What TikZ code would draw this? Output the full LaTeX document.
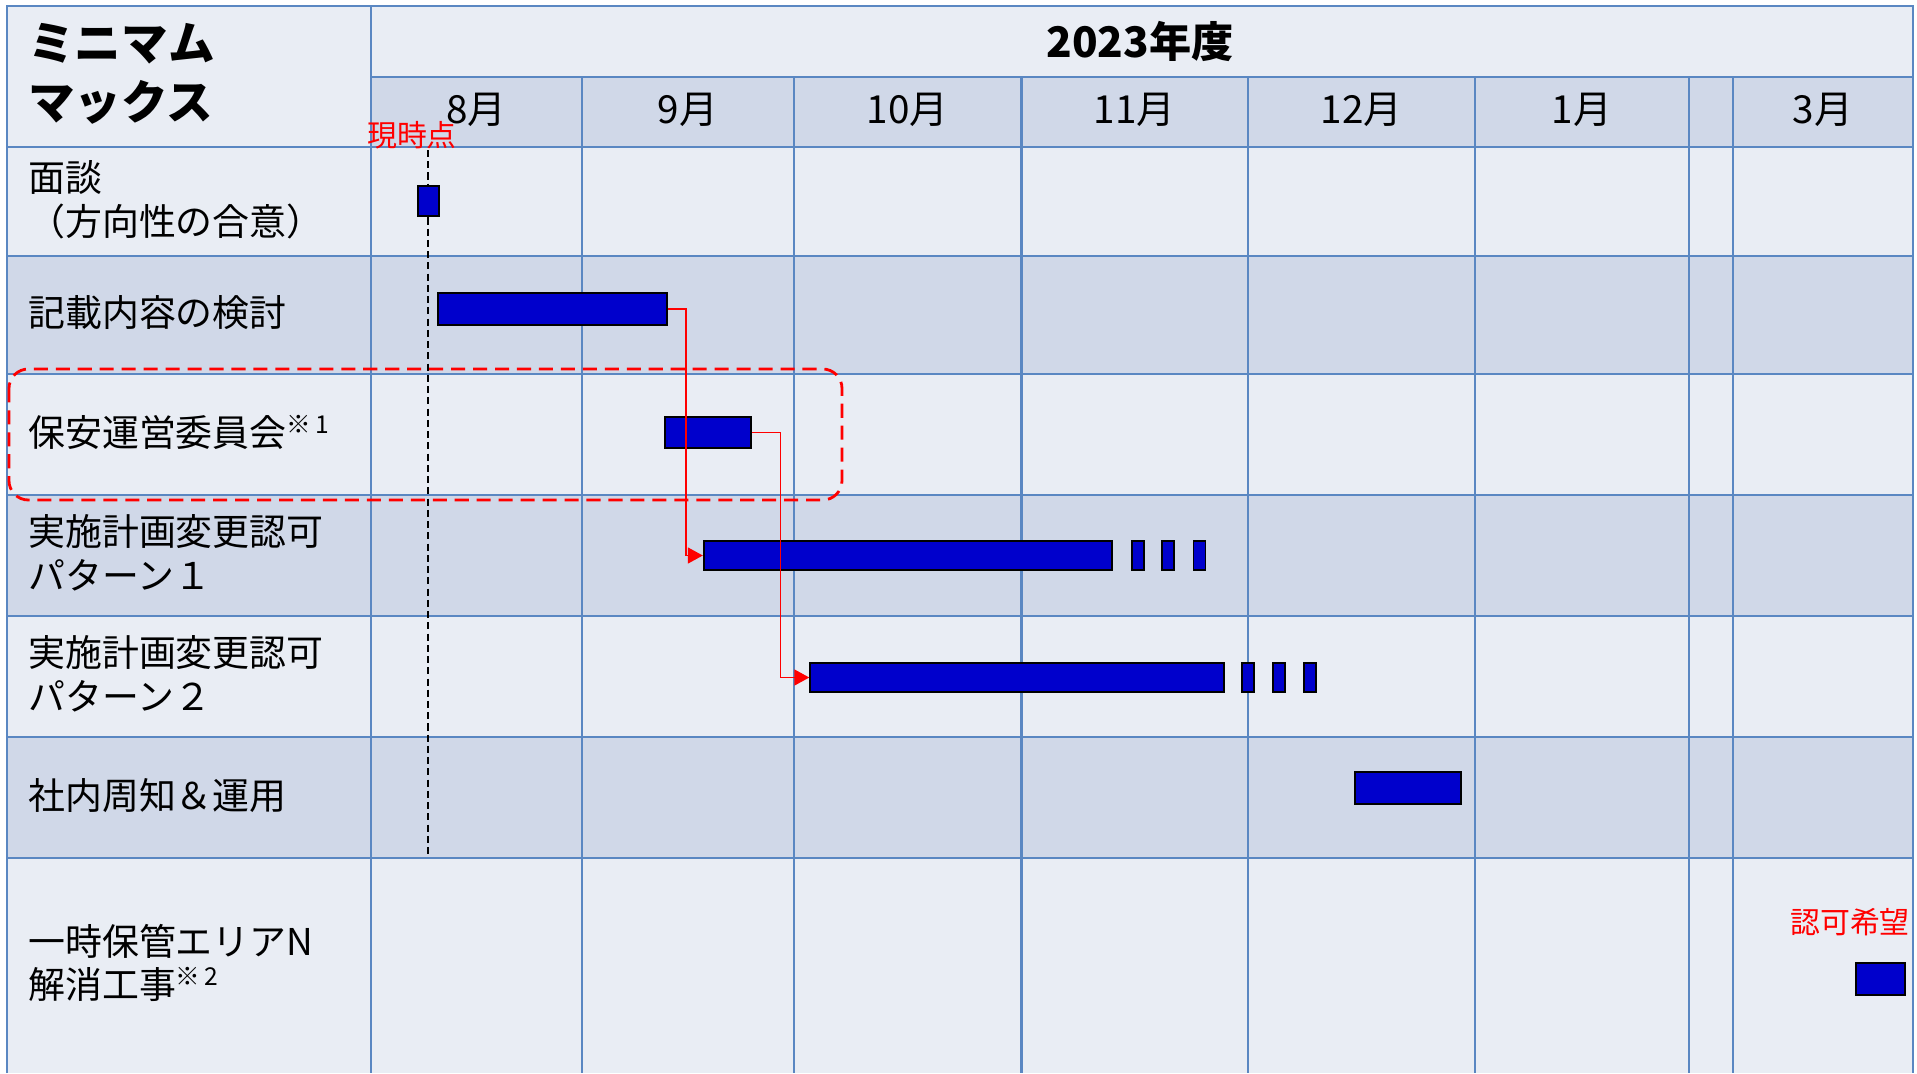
\documentclass[tikz,border=0pt]{standalone}
\usepackage{fontspec}
\setmainfont{Noto Sans CJK JP}
\usetikzlibrary{arrows.meta}
\definecolor{lightc}{HTML}{E9EDF4}
\definecolor{darkc}{HTML}{D0D8E8}
\definecolor{gridc}{HTML}{5A87C2}
\definecolor{barblue}{HTML}{0000CC}
\definecolor{redc}{HTML}{FF0000}
\newcommand{\komeji}[1]{\raisebox{7pt}{\fontsize{14}{14}\selectfont ※\,#1}}
\tikzset{
  gridline/.style={draw=gridc, line width=1.6pt},
  lbl/.style={anchor=west, inner sep=0pt, font=\fontsize{21}{24}\selectfont},
  mon/.style={inner sep=0pt, font=\fontsize{22}{26}\selectfont},
  ttl/.style={anchor=west, inner sep=0pt, font=\fontsize{26.5}{30}\selectfont\bfseries},
  redlbl/.style={inner sep=0pt, text=redc, font=\fontsize{17}{20}\selectfont},
  ganttbar/.style={draw=black, line width=1.1pt, fill=barblue, inner sep=0pt, minimum height=0.6cm},
  redarrow/.style={draw=redc, line width=1.1pt, -{Triangle[length=8.5pt,width=9pt]}},
  nowline/.style={draw=black, line width=1.1pt, dash pattern=on 4pt off 2.4pt},
  focusbox/.style={draw=redc, line width=1.6pt, dash pattern=on 8pt off 4.5pt, rounded corners=11pt}
}
\begin{document}
\begin{tikzpicture}[x=0.02cm, y=-0.02cm]
\useasboundingbox (0,0) rectangle (1917,1073);
% fills
\fill[lightc] (7,6) rectangle (1913,1073);
\fill[darkc] (371,77) rectangle (1913,147);
\fill[darkc] (7,256) rectangle (1913,374);
\fill[darkc] (7,495) rectangle (1913,616);
\fill[darkc] (7,737) rectangle (1913,858);
% grid
\draw[gridline] (7,1073) -- (7,6) -- (1913,6) -- (1913,1073);
\draw[gridline] (371,6) -- (371,1073);
\draw[gridline] (371,77) -- (1913,77);
\foreach \yy in {147,256,374,495,616,737,858} \draw[gridline] (7,\yy) -- (1913,\yy);
\foreach \xx in {582,794,1021.5,1248,1475,1689,1733} \draw[gridline] (\xx,77) -- (\xx,1073);
% current time line
\draw[nowline] (428,150) -- (428,858);
% header texts
\node[ttl] (t1) at (28,44) {ミニマム};
\node[ttl] (t2) at (28,102) {マックス};
\node[inner sep=0pt, font=\fontsize{24}{28}\selectfont\bfseries] (fy) at (1140,41) {2023年度};
\node[mon] (m8) at (476.5,110) {8月};
\node[mon] (m9) at (688,110) {9月};
\node[mon] (m10) at (907.75,110) {10月};
\node[mon] (m11) at (1134.75,110) {11月};
\node[mon] (m12) at (1361.5,110) {12月};
\node[mon] (m1) at (1582,110) {1月};
\node[mon] (m3) at (1823,110) {3月};
\node[redlbl] (now) at (412,135) {現時点};
% row labels
\node[lbl] (r1a) at (28,177) {面談};
\node[lbl] (r1b) at (28,221) {（方向性の合意）};
\node[lbl] (r2) at (28,313) {記載内容の検討};
\node[lbl] (r3) at (28,432) {保安運営委員会\komeji{1}};
\node[lbl] (r4a) at (28,532) {実施計画変更認可};
\node[lbl] (r4b) at (28,575) {パターン１};
\node[lbl] (r5a) at (28,653) {実施計画変更認可};
\node[lbl] (r5b) at (28,696) {パターン２};
\node[lbl] (r6) at (28,796) {社内周知＆運用};
\node[lbl] (r7a) at (28,941) {一時保管エリアN};
\node[lbl] (r7b) at (28,984) {解消工事\komeji{2}};
% bars
\node[ganttbar, minimum width=0.42cm] (b1) at (428.5,201) {};
\node[ganttbar, minimum width=4.58cm, minimum height=0.64cm] (b2) at (552.5,309) {};
\node[ganttbar, minimum width=1.72cm, minimum height=0.62cm] (b3) at (708,432.5) {};
\node[ganttbar, minimum width=8.17cm, minimum height=0.58cm] (b4) at (908,555.5) {};
\node[ganttbar, minimum width=0.24cm, minimum height=0.58cm] (b4a) at (1138,555.5) {};
\node[ganttbar, minimum width=0.24cm, minimum height=0.58cm] (b4b) at (1168,555.5) {};
\node[ganttbar, minimum width=0.24cm, minimum height=0.58cm] (b4c) at (1199.5,555.5) {};
\node[ganttbar, minimum width=8.27cm, minimum height=0.58cm] (b5) at (1017,677.5) {};
\node[ganttbar, minimum width=0.24cm, minimum height=0.58cm] (b5a) at (1248.3,677.5) {};
\node[ganttbar, minimum width=0.24cm, minimum height=0.58cm] (b5b) at (1279,677.5) {};
\node[ganttbar, minimum width=0.24cm, minimum height=0.58cm] (b5c) at (1310,677.5) {};
\node[ganttbar, minimum width=2.12cm, minimum height=0.64cm] (b6) at (1407.6,788) {};
\node[ganttbar, minimum width=0.98cm, minimum height=0.64cm] (b7) at (1880.5,979) {};
\node[redlbl] (goal) at (1850,922) {認可希望};
% dependencies
\draw[redarrow] (b2.east) -- ++(18,0) |- (b4.west);
\draw[redarrow] (b3.east) -- ++(28.5,0) |- (b5.west);
% focus box
\draw[focusbox] (9,369) rectangle (842,500);
\end{tikzpicture}
\end{document}
